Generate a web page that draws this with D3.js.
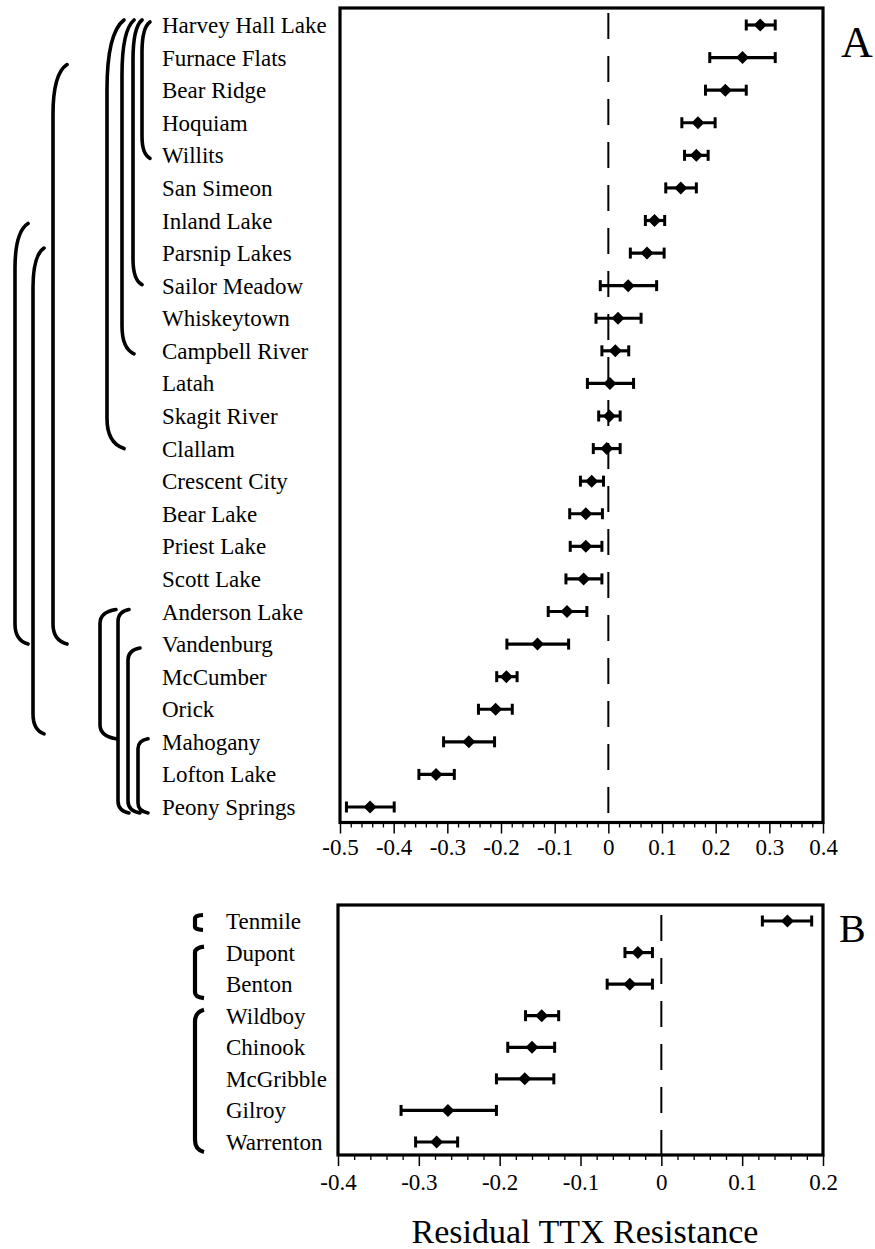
<!DOCTYPE html>
<html><head><meta charset="utf-8">
<script src="https://cdn.jsdelivr.net/npm/d3@7"></script>
<style>
html,body{margin:0;padding:0;background:#fff;}
svg{display:block;}
</style></head>
<body>
<svg id="chart" width="875" height="1249"></svg>
<script>
// ---------- data ----------
const sitesA = ["Harvey Hall Lake","Furnace Flats","Bear Ridge","Hoquiam","Willits","San Simeon","Inland Lake","Parsnip Lakes","Sailor Meadow","Whiskeytown","Campbell River","Latah","Skagit River","Clallam","Crescent City","Bear Lake","Priest Lake","Scott Lake","Anderson Lake","Vandenburg","McCumber","Orick","Mahogany","Lofton Lake","Peony Springs"];
const meanA = [0.283,0.250,0.218,0.167,0.164,0.135,0.086,0.072,0.037,0.018,0.013,0.003,0.002,-0.003,-0.031,-0.042,-0.042,-0.046,-0.077,-0.132,-0.190,-0.210,-0.260,-0.321,-0.444];
const lowA  = [0.257,0.189,0.181,0.137,0.142,0.107,0.069,0.041,-0.015,-0.023,-0.012,-0.039,-0.018,-0.028,-0.052,-0.072,-0.071,-0.079,-0.112,-0.189,-0.208,-0.242,-0.307,-0.353,-0.488];
const highA = [0.311,0.311,0.257,0.199,0.186,0.164,0.105,0.104,0.090,0.061,0.038,0.047,0.022,0.022,-0.009,-0.011,-0.012,-0.012,-0.040,-0.074,-0.170,-0.179,-0.212,-0.287,-0.399];

const sitesB = ["Tenmile","Dupont","Benton","Wildboy","Chinook","McGribble","Gilroy","Warrenton"];
const meanB = [0.156,-0.029,-0.039,-0.148,-0.160,-0.169,-0.264,-0.278];
const lowB  = [0.125,-0.045,-0.067,-0.168,-0.190,-0.204,-0.322,-0.304];
const highB = [0.186,-0.011,-0.011,-0.127,-0.132,-0.133,-0.204,-0.252];

const ticksA = [-0.5,-0.4,-0.3,-0.2,-0.1,0,0.1,0.2,0.3,0.4];
const tickLabelsA = ["-0.5","-0.4","-0.3","-0.2","-0.1","0","0.1","0.2","0.3","0.4"];
const ticksB = [-0.4,-0.3,-0.2,-0.1,0,0.1,0.2];
const tickLabelsB = ["-0.4","-0.3","-0.2","-0.1","0","0.1","0.2"];

// groupings (brackets) as [first site, last site]
const groupsA = [
  ["Harvey Hall Lake","Willits"],
  ["Harvey Hall Lake","Sailor Meadow"],
  ["Harvey Hall Lake","Campbell River"],
  ["Harvey Hall Lake","Clallam"],
  ["Furnace Flats","Vandenburg"],
  ["Inland Lake","Vandenburg"],
  ["Parsnip Lakes","Mahogany"],
  ["Anderson Lake","Mahogany"],
  ["Anderson Lake","Peony Springs"],
  ["Vandenburg","Peony Springs"],
  ["Mahogany","Peony Springs"]
];
const groupsB = [["Tenmile","Tenmile"],["Dupont","Benton"],["Wildboy","Warrenton"]];

const axisTitle = "Residual TTX Resistance";
const panelLetters = ["A","B"];

// ---------- layout ----------
const FONT = '"Liberation Serif"';
const svg = d3.select("#chart");
const A = {left:340,right:823,top:8,bottom:822.5,rowTop:25,rowBot:807};
const B = {left:338,right:823,top:905,bottom:1155,rowTop:921,rowBot:1142};

const xA = d3.scaleLinear().domain([-0.5,0.4]).range([A.left,A.right]);
const yA = d3.scalePoint().domain(sitesA).range([A.rowTop,A.rowBot]);
const xB = d3.scaleLinear().domain([-0.4,0.2]).range([B.left,B.right]);
const yB = d3.scalePoint().domain(sitesB).range([B.rowTop,B.rowBot]);

const diamond = "M0,-6.5L6.5,0L0,6.5L-6.5,0Z";

function addText(sel){ return sel.style("font-family",FONT).attr("fill","#000"); }

function panel(P, x, y, sites, mean, low, high, ticks, tickLabels, labelX, dashStart, labelBaseline){
  const g = svg.append("g");
  g.append("line").attr("x1",x(0)).attr("x2",x(0)).attr("y1",dashStart).attr("y2",P.bottom)
    .attr("stroke","#000").attr("stroke-width",2).attr("stroke-dasharray","26,17");
  const ax = g.append("g").attr("transform",`translate(0,${P.bottom})`)
    .call(d3.axisBottom(x).tickValues(ticks).tickSize(11).tickFormat((d,i)=>tickLabels[i]));
  ax.attr("font-family",null).attr("font-size",null);
  ax.select(".domain").remove();
  ax.selectAll(".tick line").attr("stroke","#000").attr("stroke-width",1.5);
  addText(ax.selectAll(".tick text")).attr("y",labelBaseline).attr("dy",null).style("font-size","23px");
  const [d0,d1] = x.domain();
  const minor = d3.range(Math.round(d0*50), Math.round(d1*50)+1).map(v=>v/50).filter(v=>Math.abs(Math.round(v*10)-v*10)>1e-6);
  const mx = g.append("g").attr("transform",`translate(0,${P.bottom})`)
    .call(d3.axisBottom(x).tickValues(minor).tickSize(5).tickFormat(""));
  mx.select(".domain").remove();
  mx.selectAll(".tick line").attr("stroke","#000").attr("stroke-width",1.3);
  g.append("rect").attr("x",P.left).attr("y",P.top).attr("width",P.right-P.left).attr("height",P.bottom-P.top)
    .attr("fill","none").attr("stroke","#000").attr("stroke-width",3.2);
  const rows = g.selectAll("g.row").data(sites).join("g").attr("class","row");
  rows.append("line").attr("x1",(d,i)=>x(low[i])).attr("x2",(d,i)=>x(high[i]))
    .attr("y1",d=>y(d)).attr("y2",d=>y(d)).attr("stroke","#000").attr("stroke-width",3.2);
  rows.append("line").attr("x1",(d,i)=>x(low[i])).attr("x2",(d,i)=>x(low[i]))
    .attr("y1",d=>y(d)-5.5).attr("y2",d=>y(d)+5.5).attr("stroke","#000").attr("stroke-width",3);
  rows.append("line").attr("x1",(d,i)=>x(high[i])).attr("x2",(d,i)=>x(high[i]))
    .attr("y1",d=>y(d)-5.5).attr("y2",d=>y(d)+5.5).attr("stroke","#000").attr("stroke-width",3);
  rows.append("path").attr("d",diamond).attr("transform",(d,i)=>`translate(${x(mean[i])},${y(d)})`).attr("fill","#000");
  addText(g.selectAll("text.lab").data(sites).join("text").attr("class","lab"))
    .attr("x",labelX).attr("y",d=>y(d)+8).style("font-size","23px").text(d=>d);
  return g;
}

panel(A, xA, yA, sitesA, meanA, lowA, highA, ticksA, tickLabelsA, 162, 13, 32);
panel(B, xB, yB, sitesB, meanB, lowB, highB, ticksB, tickLabelsB, 226, 915, 35);

addText(svg.append("text")).attr("x",841).attr("y",57).style("font-size","44px").text(panelLetters[0]);
addText(svg.append("text")).attr("x",839).attr("y",942).style("font-size","40px").text(panelLetters[1]);
addText(svg.append("text")).attr("x",585).attr("y",1243).attr("text-anchor","middle").style("font-size","34px").text(axisTitle);

function bracketPath(xv, xe, y1, y2, ch, cb){
  const dx = xe - xv;
  return `M${xe},${y1} C${xv+dx*0.35},${y1+ch*0.12} ${xv},${y1+ch*0.45} ${xv},${y1+ch}`+
         ` L${xv},${y2-cb} C${xv},${y2-cb*0.45} ${xv+dx*0.35},${y2-cb*0.12} ${xe},${y2}`;
}
// layout for A brackets: [vertical x, end x, top offset, bottom offset, top curve, bottom curve]
const bracketLayoutA = [
  [142,150,-3,3,30,22],
  [133,142,-5,-1,40,26],
  [122,134,-5,3,55,28],
  [107,124,-5,0,70,30],
  [53,67,7,0,50,20],
  [15,28,3,0,45,20],
  [33,44,-5,-8,40,20],
  [100,116,-2,-3,14,14],
  [118,129,-2,6,12,12],
  [128,140,4,6,12,12],
  [138,148,-3,6,10,10]
];
svg.append("g").selectAll("path").data(groupsA).join("path")
  .attr("d",(d,i)=>{const L=bracketLayoutA[i];return bracketPath(L[0],L[1],yA(d[0])+L[2],yA(d[1])+L[3],L[4],L[5]);})
  .attr("fill","none").attr("stroke","#000").attr("stroke-width",3.6).attr("stroke-linecap","round");

const bracketLayoutB = [
  [195,203,-6,9,3,3],
  [195,204,-6,14,6,6],
  [195,204,-6,10,12,12]
];
svg.append("g").selectAll("path").data(groupsB).join("path")
  .attr("d",(d,i)=>{const L=bracketLayoutB[i];return bracketPath(L[0],L[1],yB(d[0])+L[2],yB(d[1])+L[3],L[4],L[5]);})
  .attr("fill","none").attr("stroke","#000").attr("stroke-width",4.2).attr("stroke-linecap","butt");
</script>
</body></html>
